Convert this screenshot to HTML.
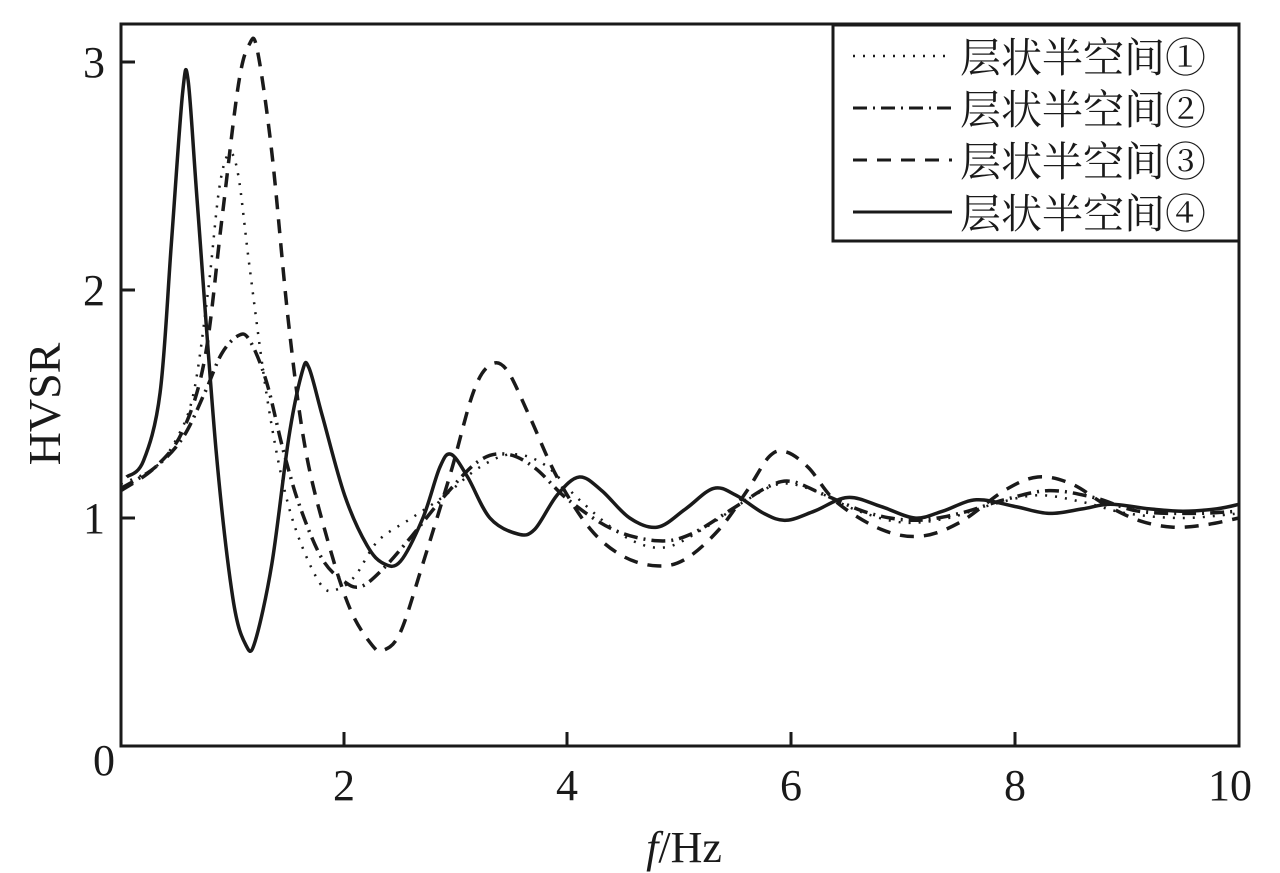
<!DOCTYPE html>
<html><head><meta charset="utf-8"><style>
html,body{margin:0;padding:0;background:#fff;}
svg{display:block;}
text{font-family:"Liberation Serif","Noto Serif CJK SC",serif;fill:#1a1a1a;}
</style></head><body>
<svg id="s" width="1280" height="873" viewBox="0 0 1280 873">
<g stroke="#1a1a1a" stroke-width="3" fill="none">
<path d="M121,24 H1239 V746 H121 Z"/>
<path d="M121,518 h14 M121,290 h14 M121,62 h14 M344,746 v-14 M567,746 v-14 M791,746 v-14 M1015,746 v-14"/>
</g>
<g font-size="44" text-anchor="middle">
<text x="94" y="77">3</text><text x="94" y="305">2</text><text x="94" y="533">1</text><text x="104" y="775">0</text>
<text x="344" y="800">2</text><text x="567" y="800">4</text><text x="791" y="800">6</text><text x="1015" y="800">8</text><text x="1230" y="800">10</text>
<text x="684" y="862"><tspan font-style="italic">f</tspan>/Hz</text>
<text transform="translate(60,404) rotate(-90)" font-size="46">HVSR</text>
</g>
<g id="curves" fill="none" stroke="#1a1a1a" stroke-linejoin="round"></g>
<rect x="833" y="25" width="406" height="216" fill="#fff" stroke="#1a1a1a" stroke-width="3"/>
<g stroke="#1a1a1a" stroke-width="3">
<line x1="853" y1="56" x2="952" y2="56" stroke-dasharray="2,8" stroke-width="2.5"/>
<line x1="853" y1="108" x2="952" y2="108" stroke-dasharray="14,6,2,6"/>
<line x1="853" y1="160" x2="952" y2="160" stroke-dasharray="14,10"/>
<line x1="853" y1="212" x2="952" y2="212"/>
</g>
<g font-size="41">
<text x="960" y="72">层状半空间①</text>
<text x="960" y="124">层状半空间②</text>
<text x="960" y="176">层状半空间③</text>
<text x="960" y="228">层状半空间④</text>
</g>
</svg>
<script>
function X(f){return 121+111.8*f;}function Y(v){return 746-228*v;}
function path(pts){var p=pts.map(function(a){return[X(a[0]),Y(a[1])];});
var d="M"+p[0][0].toFixed(1)+","+p[0][1].toFixed(1);
for(var i=0;i<p.length-1;i++){var p0=p[i-1]||p[i],p1=p[i],p2=p[i+1],p3=p[i+2]||p2;
var c1=[p1[0]+(p2[0]-p0[0])/6,p1[1]+(p2[1]-p0[1])/6],c2=[p2[0]-(p3[0]-p1[0])/6,p2[1]-(p3[1]-p1[1])/6];
d+=" C"+c1[0].toFixed(1)+","+c1[1].toFixed(1)+" "+c2[0].toFixed(1)+","+c2[1].toFixed(1)+" "+p2[0].toFixed(1)+","+p2[1].toFixed(1);}
return d;}
var S=[
{w:2.5,p:[[0,1.15],[0.3,1.22],[0.5,1.35],[0.65,1.55],[0.78,2.0],[0.88,2.45],[0.97,2.6],[1.05,2.5],[1.15,2.1],[1.3,1.55],[1.45,1.15],[1.6,0.9],[1.8,0.7],[1.95,0.69],[2.1,0.75],[2.3,0.9],[2.6,1.0],[2.9,1.1],[3.2,1.22],[3.5,1.28],[3.8,1.23],[4.1,1.08],[4.5,0.92],[4.85,0.87],[5.2,0.95],[5.6,1.08],[5.9,1.15],[6.2,1.12],[6.6,1.03],[7.0,0.98],[7.4,1.0],[7.8,1.06],[8.2,1.1],[8.6,1.07],[9.0,1.02],[9.5,1.0],[10,1.02]],da:"2,8"},
{w:3.5,da:"14,6,2,6",p:[[0,1.13],[0.3,1.22],[0.55,1.35],[0.75,1.55],[0.9,1.72],[1.05,1.8],[1.15,1.78],[1.3,1.6],[1.45,1.3],[1.6,1.05],[1.8,0.82],[2.0,0.72],[2.15,0.7],[2.35,0.78],[2.6,0.92],[2.9,1.1],[3.2,1.25],[3.45,1.28],[3.7,1.22],[4.0,1.08],[4.4,0.95],[4.8,0.9],[5.1,0.93],[5.5,1.05],[5.8,1.14],[6.0,1.16],[6.3,1.1],[6.7,1.02],[7.1,0.99],[7.5,1.02],[7.9,1.08],[8.3,1.12],[8.7,1.09],[9.1,1.03],[9.6,1.02],[10,1.03]]},
{w:3.5,da:"14,10",p:[[0,1.12],[0.3,1.22],[0.55,1.38],[0.75,1.7],[0.9,2.3],[1.05,2.9],[1.15,3.08],[1.22,3.05],[1.35,2.6],[1.5,1.85],[1.65,1.3],[1.85,0.9],[2.05,0.6],[2.25,0.44],[2.35,0.42],[2.5,0.5],[2.7,0.8],[2.95,1.2],[3.15,1.55],[3.3,1.67],[3.45,1.65],[3.65,1.45],[3.9,1.18],[4.2,0.95],[4.5,0.83],[4.8,0.79],[5.05,0.82],[5.35,0.95],[5.6,1.12],[5.8,1.27],[5.95,1.29],[6.15,1.22],[6.4,1.07],[6.8,0.95],[7.15,0.92],[7.5,0.98],[7.9,1.12],[8.2,1.18],[8.5,1.15],[8.8,1.06],[9.1,0.99],[9.4,0.96],[9.7,0.97],[10,1.0]]},
{w:3.5,da:"",p:[[0.05,1.18],[0.2,1.25],[0.35,1.55],[0.45,2.2],[0.55,2.86],[0.6,2.92],[0.68,2.4],[0.85,1.3],[1.0,0.65],[1.12,0.44],[1.2,0.46],[1.35,0.8],[1.5,1.35],[1.62,1.64],[1.68,1.66],[1.8,1.45],[2.0,1.1],[2.2,0.88],[2.35,0.8],[2.5,0.81],[2.7,1.0],[2.85,1.22],[2.95,1.28],[3.1,1.18],[3.3,1.0],[3.55,0.93],[3.7,0.95],[3.9,1.1],[4.1,1.18],[4.3,1.12],[4.55,1.0],[4.8,0.96],[5.05,1.04],[5.3,1.13],[5.5,1.1],[5.75,1.02],[5.95,0.99],[6.2,1.03],[6.5,1.09],[6.8,1.05],[7.1,1.0],[7.35,1.03],[7.65,1.08],[8.0,1.05],[8.3,1.02],[8.6,1.04],[8.85,1.06],[9.2,1.04],[9.5,1.03],[9.8,1.04],[10,1.06]]}
];
var g=document.getElementById("curves"),ns="http://www.w3.org/2000/svg";
S.forEach(function(s){var e=document.createElementNS(ns,"path");e.setAttribute("d",path(s.p));e.setAttribute("stroke-width",s.w);if(s.da)e.setAttribute("stroke-dasharray",s.da);g.appendChild(e);});
</script>
</body></html>
